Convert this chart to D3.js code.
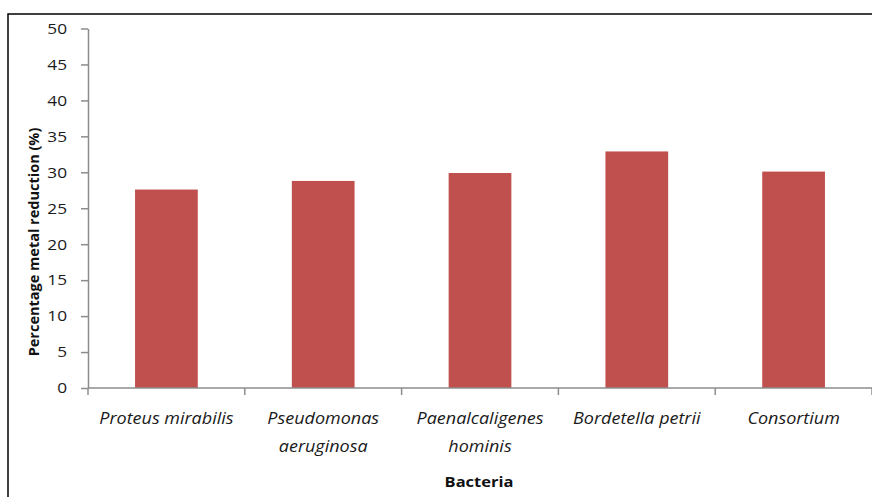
<!DOCTYPE html>
<html>
<head>
<meta charset="utf-8">
<script src="https://cdn.jsdelivr.net/npm/d3@7"></script>
<style>
  html, body { margin: 0; padding: 0; background: #fff; }
  svg { display: block; }
</style>
</head>
<body>
<svg id="chart" width="872" height="497"></svg>
<script>
// Bacterial strains and their metal reduction (%)
const categories = [
  ["Proteus mirabilis"],
  ["Pseudomonas", "aeruginosa"],
  ["Paenalcaligenes", "hominis"],
  ["Bordetella petrii"],
  ["Consortium"]
];
const values = [27.6, 28.8, 29.9, 32.9, 30.1];
const yTicks = [0, 5, 10, 15, 20, 25, 30, 35, 40, 45, 50];

const xTitle = "Bacteria";
const yTitle = "Percentage metal reduction (%)";

const svg = d3.select("#chart");
const W = 872, H = 497;

const font = "'Open Sans', 'Noto Sans', sans-serif";
const barColor = "#c0504d";
const axisColor = "#8c8c8c";

// Widen glyphs horizontally around a text's anchor point
function widen(sel, sx) {
  sel.each(function() {
    const t = d3.select(this);
    const tx = +t.attr("x") || 0, ty = +t.attr("y") || 0;
    t.attr("x", 0).attr("y", 0)
      .attr("transform", `translate(${tx},${ty}) scale(${sx},1)`);
    t.selectAll("tspan").attr("x", 0);
  });
}

// Outer chart frame (top and left edges visible within the page)
svg.append("rect")
  .attr("x", 8).attr("y", 14)
  .attr("width", W + 20).attr("height", H + 20)
  .attr("fill", "none").attr("stroke", "#000").attr("stroke-width", 1.5);

const plot = { left: 88, right: 872, top: 28.5, bottom: 388 };

const keys = categories.map((c, i) => i);
const x = d3.scaleBand().domain(keys).range([plot.left, plot.right]).paddingInner(0).paddingOuter(0);
const y = d3.scaleLinear().domain([0, 50]).range([plot.bottom, plot.top]);

const barW = x.bandwidth() * 0.4;

// Bars
svg.append("g").selectAll("rect")
  .data(values)
  .join("rect")
  .attr("x", (d, i) => x(i) + (x.bandwidth() - barW) / 2)
  .attr("y", d => y(d))
  .attr("width", barW)
  .attr("height", d => y(0) - y(d))
  .attr("fill", barColor);

// Y axis
const yAxis = svg.append("g")
  .attr("transform", `translate(${plot.left},0)`)
  .call(d3.axisLeft(y).tickValues(yTicks).tickSize(7).tickPadding(14).tickSizeOuter(0));
yAxis.select(".domain").attr("stroke", axisColor).attr("stroke-width", 1.5);
yAxis.selectAll(".tick line").attr("stroke", axisColor).attr("stroke-width", 1.5);
yAxis.selectAll(".tick text")
  .attr("font-family", font).attr("font-size", 15).attr("fill", "#1a1a1a")
  .call(widen, 1.15);

// X axis with tick marks at category boundaries
const xAxisG = svg.append("g").attr("transform", `translate(0,${plot.bottom})`);
xAxisG.append("line")
  .attr("x1", plot.left).attr("x2", plot.right)
  .attr("stroke", axisColor).attr("stroke-width", 1.5);
const bounds = keys.map(i => x(i)).concat([x(keys.length - 1) + x.bandwidth()]);
xAxisG.selectAll("line.tk")
  .data(bounds)
  .join("line")
  .attr("class", "tk")
  .attr("x1", d => d).attr("x2", d => d)
  .attr("y1", 0).attr("y2", 7)
  .attr("stroke", axisColor).attr("stroke-width", 1.5);

// Category labels (italic species names, wrapped)
const labels = svg.append("g").selectAll("text")
  .data(categories)
  .join("text")
  .attr("x", (d, i) => x(i) + x.bandwidth() / 2)
  .attr("y", 424)
  .attr("text-anchor", "middle")
  .attr("font-family", font)
  .attr("font-size", 15.5)
  .attr("font-style", "italic")
  .attr("fill", "#1a1a1a");
labels.each(function(lines) {
  const t = d3.select(this);
  lines.forEach((ln, j) => {
    t.append("tspan")
      .attr("x", t.attr("x"))
      .attr("dy", j === 0 ? 0 : 28)
      .text(ln);
  });
});
labels.call(widen, 1.16);

// Axis titles
svg.append("text")
  .attr("x", 479).attr("y", 487)
  .attr("text-anchor", "middle")
  .attr("font-family", font).attr("font-size", 15).attr("font-weight", "bold")
  .attr("fill", "#111")
  .text(xTitle)
  .call(widen, 1.1);

svg.append("text")
  .attr("transform", "translate(39,242) rotate(-90)")
  .attr("text-anchor", "middle")
  .attr("font-family", font).attr("font-size", 14.5).attr("font-weight", "bold")
  .attr("fill", "#111")
  .text(yTitle);
</script>
</body>
</html>
